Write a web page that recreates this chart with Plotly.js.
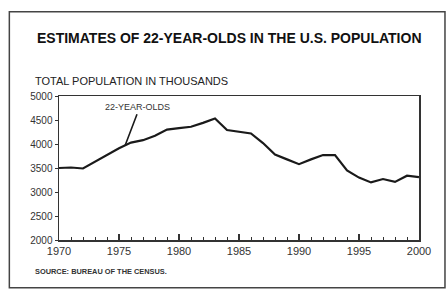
<!DOCTYPE html>
<html>
<head>
<meta charset="utf-8">
<script src="https://cdn.plot.ly/plotly-3.0.1.min.js"></script>
<style>
html,body{margin:0;padding:0;background:#fff;}
#chart{width:447px;height:295px;}
</style>
</head>
<body>
<div id="chart"></div>
<script>
const years = [1970,1971,1972,1973,1974,1975,1976,1977,1978,1979,1980,1981,1982,1983,1984,1985,1986,1987,1988,1989,1990,1991,1992,1993,1994,1995,1996,1997,1998,1999,2000];
const population = [3500,3510,3490,3630,3770,3910,4030,4080,4170,4300,4330,4360,4440,4530,4290,4260,4220,4020,3780,3680,3580,3680,3770,3770,3450,3300,3200,3270,3210,3340,3310];
const yTicks = [2000,2500,3000,3500,4000,4500,5000];
const xTicks = [1970,1975,1980,1985,1990,1995,2000];
const seriesLabel = "22-YEAR-OLDS";

const ink = "#1a1a1a";
const data = [{
  x: years, y: population, type: "scatter", mode: "lines",
  line: {color: ink, width: 2.2}, hoverinfo: "skip", showlegend: false
}];

// frame in paper coordinates (plot area: x 58.7..419, y 95.5..240)
const L=58.7, R=419, T=95.5, B=240;
const px = v => (v - L)/(R - L);
const py = v => (B - v)/(B - T);

const layout = {
  width: 447, height: 295,
  margin: {l: L, r: 447 - R, t: T, b: 295 - B, pad: 0},
  paper_bgcolor: "#fff", plot_bgcolor: "#fff",
  showlegend: false,
  font: {family: "Liberation Sans, Arial, sans-serif", color: ink},
  xaxis: {
    range: [1970, 2000], tickvals: xTicks, ticktext: xTicks.map(String),
    ticks: "inside", ticklen: 6, tickwidth: 1.2, tickcolor: "#333",
    minor: {dtick: 1, ticks: "inside", ticklen: 3, tickwidth: 1, tickcolor: "#333", showgrid: false},
    showline: true, linecolor: "#333", linewidth: 1.5, mirror: true,
    showgrid: false, zeroline: false,
    tickfont: {family: "Liberation Sans Narrow, Arial Narrow, sans-serif", size: 11, color: "#333"}
  },
  yaxis: {
    range: [2000, 5000], tickvals: yTicks, ticktext: yTicks.map(String),
    ticks: "outside", ticklen: 3, tickwidth: 1, tickcolor: "#333",
    showline: true, linecolor: "#333", linewidth: 1.5, mirror: true,
    showgrid: false, zeroline: false,
    tickfont: {family: "Liberation Sans Narrow, Arial Narrow, sans-serif", size: 10, color: "#333"}
  },
  shapes: [{
    type: "rect", xref: "paper", yref: "paper",
    x0: px(9), x1: px(445), y0: py(288), y1: py(11),
    line: {color: "#444", width: 1.5}
  }],
  annotations: [
    {xref: "paper", yref: "paper", x: px(229), y: py(37), xanchor: "center", yanchor: "middle",
     text: "<b>ESTIMATES OF 22-YEAR-OLDS IN THE U.S. POPULATION</b>", showarrow: false,
     font: {family: "Liberation Sans, Arial, sans-serif", size: 14, color: "#111"}},
    {xref: "paper", yref: "paper", x: px(33), y: py(80), xanchor: "left", yanchor: "middle",
     text: "TOTAL POPULATION IN THOUSANDS", showarrow: false,
     font: {family: "Liberation Sans, Arial, sans-serif", size: 11, color: "#222"}},
    {xref: "paper", yref: "paper", x: px(33), y: py(272), xanchor: "left", yanchor: "middle",
     text: "<b>SOURCE: BUREAU OF THE CENSUS.</b>", showarrow: false,
     font: {family: "Liberation Sans Narrow, Arial Narrow, sans-serif", size: 7.4, color: "#333"}},
    {x: 1975.5, y: 3965, xref: "x", yref: "y", text: seriesLabel,
     showarrow: true, arrowhead: 0, arrowwidth: 1.6, arrowcolor: ink,
     ax: 1976.5, ay: 4620, axref: "x", ayref: "y", standoff: 0,
     xanchor: "center", yanchor: "bottom",
     font: {family: "Liberation Sans Narrow, Arial Narrow, sans-serif", size: 9, color: "#333"}}
  ]
};

Plotly.newPlot("chart", data, layout, {staticPlot: true, displayModeBar: false});
</script>
</body>
</html>
